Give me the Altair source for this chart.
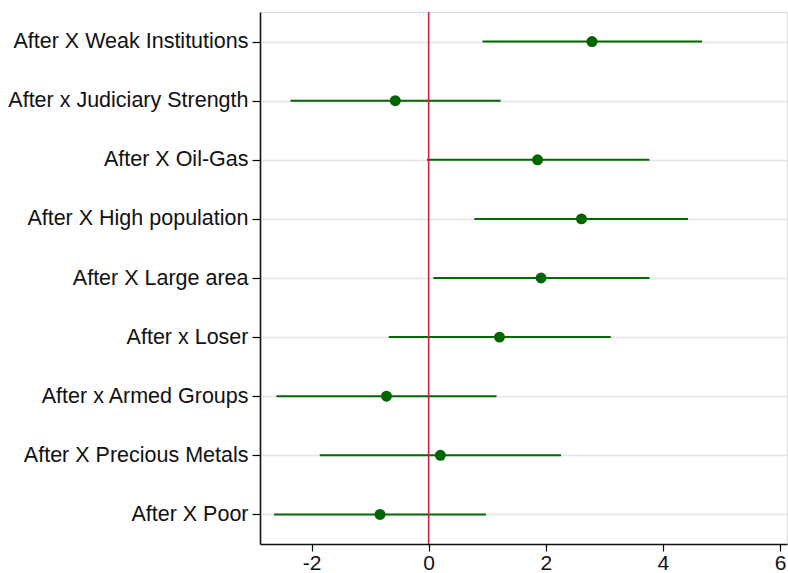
import altair as alt
import pandas as pd

labels = [
    "After X Weak Institutions",
    "After x Judiciary Strength",
    "After X Oil-Gas",
    "After X High population",
    "After X Large area",
    "After x Loser",
    "After x Armed Groups",
    "After X Precious Metals",
    "After X Poor",
]
coef = [2.79, -0.57, 1.86, 2.61, 1.92, 1.21, -0.72, 0.20, -0.83]
ci_low = [0.92, -2.36, -0.03, 0.78, 0.08, -0.68, -2.60, -1.86, -2.64]
ci_high = [4.67, 1.23, 3.77, 4.43, 3.77, 3.11, 1.16, 2.26, 0.98]
x_ticks = [-2, 0, 2, 4, 6]
ref_line = [0]

df = pd.DataFrame({"label": labels, "coef": coef, "lo": ci_low, "hi": ci_high})
ref = pd.DataFrame({"x": ref_line})

FONT = "Liberation Sans"
xscale = alt.Scale(domain=[-2.88, 6.12], nice=False, zero=False)
yenc = alt.Y(
    "label:N",
    sort=labels,
    scale=alt.Scale(type="point", padding=0.5),
    axis=alt.Axis(
        title=None, grid=True, gridColor="#e3e3e3", gridWidth=1.5,
        domain=True, domainColor="#111111", domainWidth=1.6,
        ticks=True, tickSize=8, tickColor="#000000", tickWidth=1.2,
        labelFont=FONT, labelFontSize=21.5, labelColor="#111111", labelPadding=4,
        labelLimit=400,
    ),
)
xaxis = alt.Axis(
    title=None, grid=False, values=x_ticks,
    domain=True, domainColor="#111111", domainWidth=1.6,
    tickSize=7, tickColor="#000000", tickWidth=1.2,
    labelFont=FONT, labelFontSize=21, labelColor="#111111", labelPadding=1,
    labelFlush=False, labelExpr="'' + datum.value",
)

ci = alt.Chart(df).mark_rule(color="#006a00", strokeWidth=2).encode(
    x=alt.X("lo:Q", scale=xscale, axis=xaxis),
    x2="hi:Q",
    y=yenc,
)
rule = alt.Chart(ref).mark_rule(color="#d01e48", strokeWidth=1.6).encode(
    x=alt.X("x:Q", scale=xscale),
)
pts = alt.Chart(df).mark_point(filled=True, size=120, color="#006400", opacity=1).encode(
    x=alt.X("coef:Q", scale=xscale),
    y=alt.Y("label:N", sort=labels),
)

chart = alt.layer(ci, rule, pts).properties(
    width=527, height=532,
    autosize=alt.AutoSizeParams(type="none"),
    padding={"left": 260, "top": 12, "right": 1, "bottom": 29},
).configure_view(stroke="#333333", strokeWidth=1.6).configure(background="white")

chart.save("out.html", embed_options={"renderer": "svg", "actions": False})
